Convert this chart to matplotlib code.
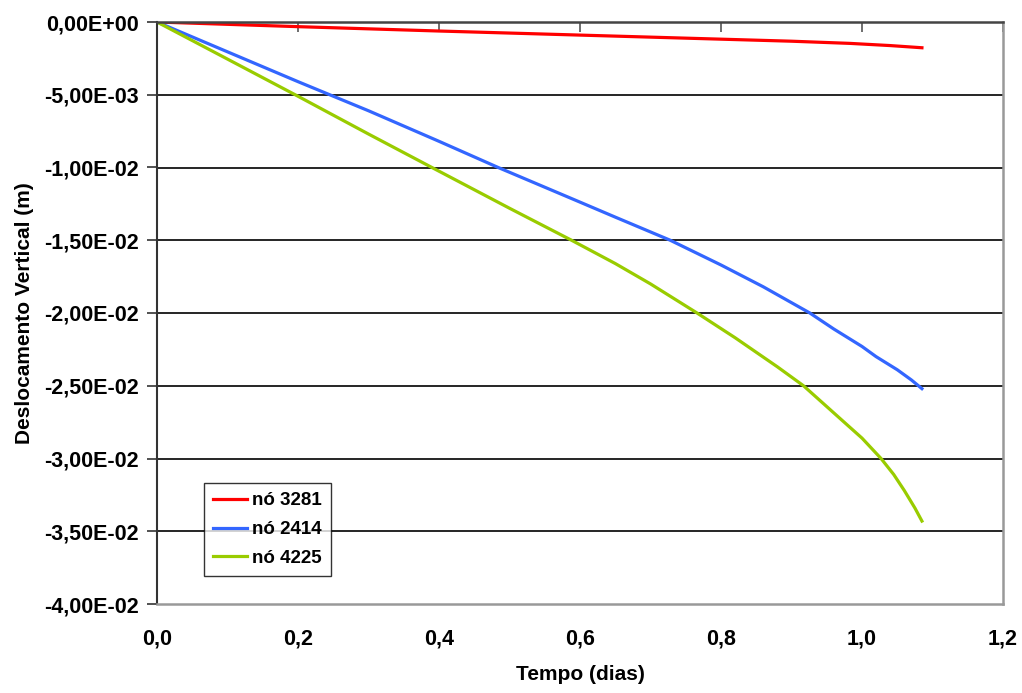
import matplotlib
matplotlib.use("Agg")
import matplotlib.pyplot as plt
from matplotlib.ticker import FuncFormatter, MultipleLocator

plt.rcParams['font.family'] = ['Liberation Sans', 'DejaVu Sans']
plt.rcParams['font.weight'] = 'bold'

# Dados (tempo em dias, deslocamento em m)
tempo_3281 = [0.0, 0.2, 0.4, 0.6, 0.8, 0.9, 0.983, 1.04, 1.085]
desl_3281 = [0.0, -0.00032, -0.00062, -0.0009, -0.00118, -0.00132, -0.00147, -0.00162, -0.00177]

tempo_2414 = [0.0, 0.1, 0.2, 0.245, 0.3, 0.4, 0.484, 0.6, 0.65, 0.728, 0.8, 0.86, 0.926,
              0.96, 1.0, 1.02, 1.05, 1.07, 1.085]
desl_2414 = [0.0, -0.00205, -0.0041, -0.005, -0.0061, -0.0082, -0.01, -0.01238, -0.01341,
             -0.015, -0.0167, -0.0182, -0.02, -0.0211, -0.0223, -0.0230, -0.0239, -0.0246,
             -0.0252]

tempo_4225 = [0.0, 0.1, 0.196, 0.3, 0.39, 0.5, 0.588, 0.65, 0.7, 0.766, 0.82, 0.85, 0.88,
              0.917, 0.97, 1.0, 1.027, 1.045, 1.06, 1.075, 1.085]
desl_4225 = [0.0, -0.00255, -0.005, -0.0077, -0.01, -0.0128, -0.015, -0.0166, -0.0180,
             -0.02, -0.0217, -0.0227, -0.0237, -0.025, -0.0273, -0.0286, -0.03, -0.0311,
             -0.0322, -0.0334, -0.0343]

fig = plt.figure(figsize=(10.22, 6.93), dpi=100)
ax = fig.add_axes([157 / 1022, 1 - 604 / 693, 846 / 1022, 582 / 693])

ax.plot(tempo_3281, desl_3281, color='#FF0000', lw=2.3, label='nó 3281')
ax.plot(tempo_2414, desl_2414, color='#3366FF', lw=2.3, label='nó 2414')
ax.plot(tempo_4225, desl_4225, color='#99CC00', lw=2.3, label='nó 4225')

ax.set_xlim(0, 1.2)
ax.set_ylim(-0.04, 0)
ax.xaxis.set_major_locator(MultipleLocator(0.2))
ax.yaxis.set_major_locator(MultipleLocator(0.005))
ax.xaxis.set_major_formatter(FuncFormatter(lambda v, p: f"{v:.1f}".replace('.', ',')))
ax.yaxis.set_major_formatter(FuncFormatter(lambda v, p: f"{v:.2E}".replace('.', ',')))

# grade horizontal
for yv in [-0.005, -0.01, -0.015, -0.02, -0.025, -0.03, -0.035]:
    ax.axhline(yv, color='black', lw=1.2, zorder=0)

# eixo x cruza em y=0 (topo), rótulos embaixo
ax.tick_params(axis='x', bottom=False, top=True, labelbottom=True, labeltop=False,
               direction='in', length=7, width=1.2, color='#555555', labelsize=15.5, pad=18)
ax.tick_params(axis='y', direction='out', length=7, width=1.2, color='#333333',
               labelsize=15.5, pad=6)

ax.spines['top'].set_color('#444444')
ax.spines['top'].set_linewidth(1.8)
ax.spines['left'].set_color('#333333')
ax.spines['left'].set_linewidth(1.5)
ax.spines['bottom'].set_color('#999999')
ax.spines['bottom'].set_linewidth(1.8)
ax.spines['right'].set_color('#999999')
ax.spines['right'].set_linewidth(1.8)

ax.set_xlabel('Tempo (dias)', fontsize=15, fontweight='bold', labelpad=11)
ax.set_ylabel('Deslocamento Vertical (m)', fontsize=15, fontweight='bold', labelpad=7)

leg = ax.legend(loc='upper left', bbox_to_anchor=(0.0556, 0.208), borderaxespad=0,
                fontsize=13.5, frameon=True, fancybox=False, handlelength=1.8,
                handletextpad=0.25, labelspacing=0.62, borderpad=0.5)
leg.get_frame().set_edgecolor('black')
leg.get_frame().set_linewidth(1.0)
for t in leg.get_texts():
    t.set_fontweight('bold')

fig.savefig('out.png', dpi=100, facecolor='white')
